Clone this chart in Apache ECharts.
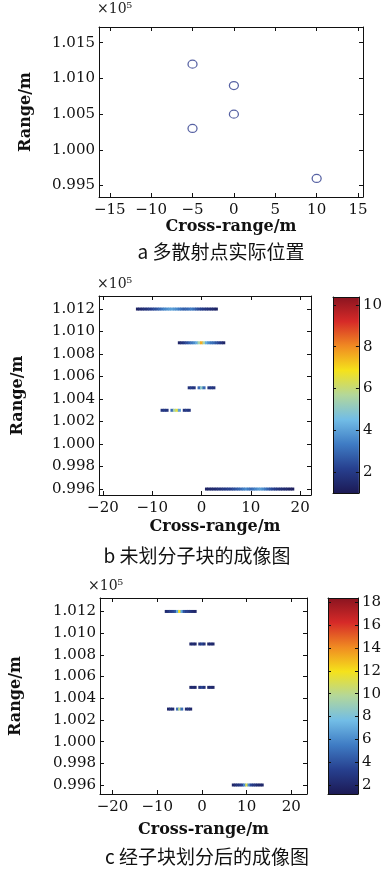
<!DOCTYPE html>
<html>
<head>
<meta charset="utf-8">
<script src="https://cdn.jsdelivr.net/npm/echarts@6/dist/echarts.min.js"></script>
<style>
  html, body { margin: 0; padding: 0; background: #fff; }
  #main { width: 385px; height: 872px; }
</style>
</head>
<body>
<div id="main"></div>
<script>
// ---- data ----
// a: true scatterer positions
const ptsX = [-5, 0, 0, -5, 10];
const ptsY = [1.012, 1.009, 1.005, 1.003, 0.996];

// tick labels
const aTicksX = [-15, -10, -5, 0, 5, 10, 15];
const aTicksY = [0.995, 1.000, 1.005, 1.010, 1.015];
const imgTicksX = [-20, -10, 0, 10, 20];
const imgTicksY = [0.996, 0.998, 1.000, 1.002, 1.004, 1.006, 1.008, 1.010, 1.012];
const bBarTicks = [2, 4, 6, 8, 10];
const cBarTicks = [2, 4, 6, 8, 10, 12, 14, 16, 18];

// imaged streaks: one row per target, samples every 0.5 m from start, null = gap
const step = 0.5;
const rows = [1.012, 1.009, 1.005, 1.003, 0.996];

const bStarts = [-13, -4.5, -2.5, -8, 1];
const bVals = [
  [1.3, 1.5, 1.6, 1.7, 1.8, 2.0, 2.2, 2.4, 2.6, 2.9, 3.2, 3.5, 3.7, 3.9, 4.0, 3.8, 3.6, 3.3, 3.0, 2.8, 2.9, 3.1, 3.3, 3.0, 2.6, 2.3, 2.1, 1.9, 1.8, 1.7, 1.6, 1.5, 1.3],
  [1.4, 1.7, 2.0, 2.4, 2.8, 3.2, 3.6, 4.2, 5.5, 7.6, 5.5, 4.2, 3.6, 3.2, 3.0, 2.6, 2.2, 1.8, 1.4],
  [1.8, 2.0, 1.8, null, 3.0, 5.0, 3.0, null, 1.8, 2.0, 1.8],
  [1.8, 2.0, 1.8, null, 3.0, 5.5, 6.5, 4.0, null, 1.8, 2.0, 1.8],
  [1.3, 1.4, 1.5, 1.5, 1.6, 1.7, 1.8, 1.9, 2.0, 2.1, 2.2, 2.4, 2.6, 2.8, 3.0, 3.3, 3.6, 3.3, 3.0, 3.2, 3.5, 3.8, 3.9, 3.6, 3.2, 2.8, 2.5, 2.2, 2.0, 1.8, 1.7, 1.6, 1.5, 1.4, 1.3, 1.2]
];

const cStarts = [-8, -2.5, -2.5, -7.5, 7];
const cVals = [
  [2.2, 2.6, 3.0, 3.4, 4.0, 7.0, 12.0, 7.0, 4.0, 3.4, 3.0, 2.6, 2.2, 2.0],
  [2.0, 2.3, 2.0, null, 2.5, 3.5, 2.5, null, 2.0, 2.3, 2.0],
  [2.0, 2.3, 2.0, null, 2.5, 3.5, 2.5, null, 2.0, 2.3, 2.0],
  [2.0, 2.5, 2.2, null, 5.0, 10.0, 5.0, null, 2.2, 2.5, 2.0],
  [2.0, 2.3, 2.6, 2.9, 3.5, 6.0, 11.0, 6.0, 3.5, 2.9, 2.6, 2.3, 2.1, 2.0]
];

// jet-like colormap as printed
const jet = ['#1c1a55', '#27408f', '#3f7cc4', '#72bde6', '#b3d79a', '#f5e21b', '#f08a22', '#d62a28', '#8a1420'];

const chart = echarts.init(document.getElementById('main'));

const serif = 'DejaVu Serif';
const ink = '#111';
const minus = v => String(v).replace('-', '\u2212');

function streakData(starts, vals) {
  const out = [];
  vals.forEach((row, r) => {
    row.forEach((v, i) => {
      if (v != null) out.push([starts[r] + i * step, rows[r], v]);
    });
  });
  return out;
}

// four axes framing a grid: bottom/left labelled, top/right ticks only
function frame(gi, xr, yr, xt, yt, yFmt) {
  const tick = { show: true, inside: true, length: 4, lineStyle: { color: ink } };
  const line = { show: true, onZero: false, lineStyle: { color: ink, width: 1 } };
  const base = { type: 'value', gridIndex: gi, splitLine: { show: false }, axisLine: line };
  const xs = [
    Object.assign({}, base, {
      position: 'bottom', min: xr[0], max: xr[1],
      axisTick: Object.assign({ customValues: xt }, tick),
      axisLabel: { customValues: xt, margin: 6, color: ink, fontFamily: serif, fontSize: 15, formatter: minus }
    }),
    Object.assign({}, base, {
      position: 'top', min: xr[0], max: xr[1],
      axisTick: Object.assign({ customValues: xt }, tick),
      axisLabel: { show: false }
    })
  ];
  const ys = [
    Object.assign({}, base, {
      position: 'left', min: yr[0], max: yr[1],
      axisTick: Object.assign({ customValues: yt }, tick),
      axisLabel: { customValues: yt, margin: 4, color: ink, fontFamily: serif, fontSize: 15, formatter: yFmt }
    }),
    Object.assign({}, base, {
      position: 'right', min: yr[0], max: yr[1],
      axisTick: Object.assign({ customValues: yt }, tick),
      axisLabel: { show: false }
    })
  ];
  return { xs, ys };
}

const f3 = v => v.toFixed(3);
const nameStyle = { fontFamily: serif, fontSize: 16, fontWeight: 'bold', color: ink };

const grids = [
  { left: 99, top: 27, width: 264, height: 170 },   // a
  { left: 99, top: 296, width: 212, height: 199 },  // b
  { left: 333, top: 297, width: 30, height: 196 },  // b colorbar
  { left: 94, top: 598, width: 213, height: 196 },  // c
  { left: 328, top: 598, width: 30, height: 196 }   // c colorbar
];

const fa = frame(0, [-16.3, 15.6], [0.9934, 1.0172], aTicksX, aTicksY, f3);
const fb = frame(1, [-20.8, 22.2], [0.99547, 1.01316], imgTicksX, imgTicksY, f3);
const fc = frame(3, [-22.8, 23.5], [0.99517, 1.01324], imgTicksX, imgTicksY, f3);

// axis names
fa.xs[0].name = 'Cross-range/m'; fa.xs[0].nameLocation = 'middle'; fa.xs[0].nameGap = 22; fa.xs[0].nameTextStyle = nameStyle;
fa.ys[0].name = 'Range/m'; fa.ys[0].nameLocation = 'middle'; fa.ys[0].nameGap = 65; fa.ys[0].nameTextStyle = nameStyle;
fb.xs[0].name = 'Cross-range/m'; fb.xs[0].nameLocation = 'middle'; fb.xs[0].nameGap = 24;
fb.xs[0].nameTextStyle = Object.assign({ padding: [0, 0, 0, 20] }, nameStyle);
fb.ys[0].name = 'Range/m'; fb.ys[0].nameLocation = 'middle'; fb.ys[0].nameGap = 73; fb.ys[0].nameTextStyle = nameStyle;
fc.xs[0].name = 'Cross-range/m'; fc.xs[0].nameLocation = 'middle'; fc.xs[0].nameGap = 28; fc.xs[0].nameTextStyle = nameStyle;
fc.ys[0].name = 'Range/m'; fc.ys[0].nameLocation = 'middle'; fc.ys[0].nameGap = 76; fc.ys[0].nameTextStyle = nameStyle;

// colorbar axes
function barAxes(gi, range, ticks) {
  const tick = { show: true, inside: true, length: 3, customValues: ticks, lineStyle: { color: ink } };
  const line = { show: true, onZero: false, lineStyle: { color: ink } };
  return {
    xs: [
      { type: 'value', gridIndex: gi, min: 0, max: 1, position: 'bottom', z: 5, axisLine: line, axisTick: { show: false }, axisLabel: { show: false }, splitLine: { show: false } },
      { type: 'value', gridIndex: gi, min: 0, max: 1, position: 'top', z: 5, axisLine: line, axisTick: { show: false }, axisLabel: { show: false }, splitLine: { show: false } }
    ],
    ys: [
      { type: 'value', gridIndex: gi, min: range[0], max: range[1], position: 'right', z: 5, axisLine: line, axisTick: tick, splitLine: { show: false },
        axisLabel: { customValues: ticks, margin: 4, color: ink, fontFamily: serif, fontSize: 15 } },
      { type: 'value', gridIndex: gi, min: range[0], max: range[1], position: 'left', z: 5, axisLine: line, axisTick: tick, splitLine: { show: false },
        axisLabel: { show: false } }
    ]
  };
}
const bRange = [1.0, 10.38];
const cRange = [1.21, 18.38];
const cb = barAxes(2, bRange, bBarTicks);
const cc = barAxes(4, cRange, cBarTicks);

const xAxes = [].concat(fa.xs, fb.xs, cb.xs, fc.xs, cc.xs); // 0-1 a, 2-3 b, 4-5 cbar b, 6-7 c, 8-9 cbar c
const yAxes = [].concat(fa.ys, fb.ys, cb.ys, fc.ys, cc.ys);

function streakRender(params, api) {
  const x = api.value(0), y = api.value(1);
  const p0 = api.coord([x - step / 2, y]);
  const p1 = api.coord([x + step / 2, y]);
  return {
    type: 'rect',
    shape: { x: p0[0] - 0.3, y: p0[1] - 1.5, width: p1[0] - p0[0] + 0.6, height: 3 },
    style: { fill: api.visual('color') }
  };
}

function colorbarRender(range) {
  return function (params, api) {
    const p0 = api.coord([0, range[1]]);
    const p1 = api.coord([1, range[0]]);
    return {
      type: 'rect',
      shape: { x: p0[0], y: p0[1], width: p1[0] - p0[0], height: p1[1] - p0[1] },
      style: {
        fill: new echarts.graphic.LinearGradient(0, 1, 0, 0,
          jet.map((c, i) => ({ offset: i / (jet.length - 1), color: c })))
      }
    };
  };
}

const capStyle = { fontFamily: 'Noto Sans CJK SC', fontSize: 19, fill: '#111' };
const expStyle = { fontFamily: serif, fontSize: 14, fill: '#222' };

const option = {
  animation: false,
  grid: grids,
  xAxis: xAxes,
  yAxis: yAxes,
  visualMap: [
    { show: false, type: 'continuous', min: bRange[0], max: bRange[1], dimension: 2, seriesIndex: 1, inRange: { color: jet } },
    { show: false, type: 'continuous', min: cRange[0], max: cRange[1], dimension: 2, seriesIndex: 3, inRange: { color: jet } }
  ],
  series: [
    {
      type: 'scatter', xAxisIndex: 0, yAxisIndex: 0,
      symbol: 'circle', symbolSize: [9, 8],
      itemStyle: { color: 'rgba(0,0,0,0)', borderColor: '#2d3b8c', borderWidth: 1.2 },
      data: ptsX.map((x, i) => [x, ptsY[i]])
    },
    {
      type: 'custom', xAxisIndex: 2, yAxisIndex: 2,
      renderItem: streakRender, data: streakData(bStarts, bVals)
    },
    {
      type: 'custom', xAxisIndex: 4, yAxisIndex: 4, z: 1,
      renderItem: colorbarRender(bRange), data: [[0, bRange[0]]]
    },
    {
      type: 'custom', xAxisIndex: 6, yAxisIndex: 6,
      renderItem: streakRender, data: streakData(cStarts, cVals)
    },
    {
      type: 'custom', xAxisIndex: 8, yAxisIndex: 8, z: 1,
      renderItem: colorbarRender(cRange), data: [[0, cRange[0]]]
    }
  ],
  graphic: [
    { type: 'text', left: 97, top: 2, style: Object.assign({ text: '\u00d710\u2075' }, expStyle) },
    { type: 'text', left: 97, top: 277, style: Object.assign({ text: '\u00d710\u2075' }, expStyle) },
    { type: 'text', left: 88, top: 579, style: Object.assign({ text: '\u00d710\u2075' }, expStyle) },
    { type: 'text', x: 221, y: 252, style: Object.assign({ text: 'a 多散射点实际位置', align: 'center', verticalAlign: 'middle' }, capStyle) },
    { type: 'text', x: 197, y: 556, style: Object.assign({ text: 'b 未划分子块的成像图', align: 'center', verticalAlign: 'middle' }, capStyle) },
    { type: 'text', x: 207, y: 857, style: Object.assign({ text: 'c 经子块划分后的成像图', align: 'center', verticalAlign: 'middle' }, capStyle) }
  ]
};

chart.setOption(option);
</script>
</body>
</html>
